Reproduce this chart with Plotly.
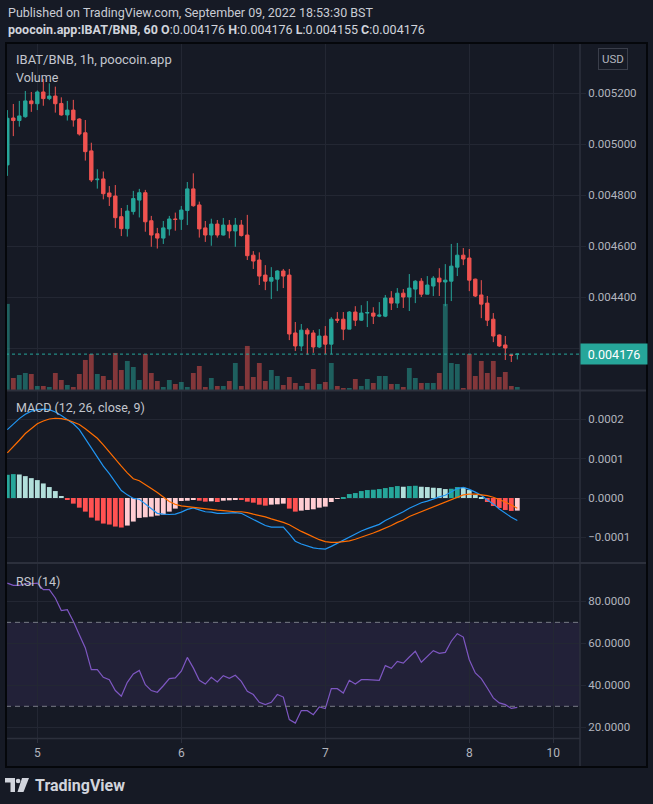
import plotly.graph_objects as go

# ---------------- data (bar index: 0 = Sep 5 00:00, 1h bars) ----------------
bars = list(range(-5, 81))

opens = [0.004918, 0.005102, 0.005092, 0.005107, 0.005169, 0.005158, 0.005204, 0.005178, 0.005188, 0.005159,
         0.005114, 0.005133, 0.005098, 0.005044, 0.004973, 0.004860, 0.004863, 0.004808, 0.004796, 0.004715,
         0.004668, 0.004735, 0.004780, 0.004809, 0.004699, 0.004648, 0.004631, 0.004667, 0.004706, 0.004705,
         0.004739, 0.004824, 0.004761, 0.004671, 0.004643, 0.004686, 0.004643, 0.004682, 0.004659, 0.004682,
         0.004643, 0.004564, 0.004545, 0.004486, 0.004462, 0.004470, 0.004502, 0.004486, 0.004259, 0.004208,
         0.004270, 0.004259, 0.004204, 0.004247, 0.004215, 0.004313, 0.004313, 0.004274, 0.004341, 0.004309,
         0.004337, 0.004337, 0.004325, 0.004325, 0.004396, 0.004376, 0.004415, 0.004400, 0.004431, 0.004462,
         0.004411, 0.004443, 0.004474, 0.004459, 0.004462, 0.004517, 0.004564, 0.004553, 0.004470, 0.004408,
         0.004376, 0.004313, 0.004251, 0.004212, 0.004173, 0.004175]
highs = [0.005133, 0.005157, 0.005169, 0.005208, 0.005204, 0.005210, 0.005255, 0.005238, 0.005225, 0.005183,
         0.005169, 0.005173, 0.005101, 0.005094, 0.005005, 0.004901, 0.004892, 0.004835, 0.004839, 0.004749,
         0.004761, 0.004816, 0.004824, 0.004820, 0.004718, 0.004671, 0.004698, 0.004718, 0.004731, 0.004757,
         0.004851, 0.004885, 0.004774, 0.004698, 0.004707, 0.004702, 0.004710, 0.004702, 0.004710, 0.004702,
         0.004722, 0.004580, 0.004575, 0.004525, 0.004517, 0.004505, 0.004510, 0.004510, 0.004302, 0.004294,
         0.004278, 0.004270, 0.004274, 0.004286, 0.004321, 0.004341, 0.004341, 0.004345, 0.004364, 0.004368,
         0.004384, 0.004360, 0.004380, 0.004408, 0.004423, 0.004435, 0.004431, 0.004490, 0.004466, 0.004474,
         0.004482, 0.004482, 0.004513, 0.004529, 0.004608, 0.004612, 0.004592, 0.004588, 0.004472, 0.004466,
         0.004404, 0.004337, 0.004253, 0.004247, 0.004174, 0.004176]
lows = [0.004875, 0.005031, 0.005068, 0.005103, 0.005126, 0.005133, 0.005150, 0.005172, 0.005123, 0.005111,
        0.005092, 0.005068, 0.005033, 0.004935, 0.004851, 0.004825, 0.004783, 0.004757, 0.004671, 0.004639,
        0.004637, 0.004723, 0.004712, 0.004656, 0.004597, 0.004590, 0.004608, 0.004641, 0.004660, 0.004663,
        0.004682, 0.004754, 0.004633, 0.004616, 0.004601, 0.004633, 0.004641, 0.004630, 0.004597, 0.004637,
        0.004545, 0.004510, 0.004447, 0.004427, 0.004392, 0.004423, 0.004435, 0.004231, 0.004188, 0.004188,
        0.004174, 0.004181, 0.004200, 0.004176, 0.004176, 0.004298, 0.004231, 0.004274, 0.004286, 0.004306,
        0.004282, 0.004294, 0.004321, 0.004321, 0.004349, 0.004357, 0.004357, 0.004345, 0.004376, 0.004400,
        0.004411, 0.004404, 0.004404, 0.004364, 0.004384, 0.004482, 0.004525, 0.004423, 0.004400, 0.004317,
        0.004286, 0.004223, 0.004204, 0.004153, 0.004145, 0.004155]
closes = [0.005101, 0.005092, 0.005110, 0.005169, 0.005158, 0.005204, 0.005178, 0.005188, 0.005158, 0.005114,
          0.005133, 0.005094, 0.005039, 0.004970, 0.004859, 0.004862, 0.004805, 0.004793, 0.004711, 0.004668,
          0.004737, 0.004786, 0.004809, 0.004695, 0.004643, 0.004631, 0.004671, 0.004706, 0.004704, 0.004741,
          0.004824, 0.004758, 0.004667, 0.004643, 0.004686, 0.004643, 0.004682, 0.004659, 0.004682, 0.004641,
          0.004562, 0.004541, 0.004482, 0.004462, 0.004476, 0.004502, 0.004482, 0.004255, 0.004208, 0.004270,
          0.004255, 0.004204, 0.004247, 0.004215, 0.004313, 0.004309, 0.004274, 0.004341, 0.004309, 0.004337,
          0.004339, 0.004325, 0.004329, 0.004396, 0.004376, 0.004415, 0.004400, 0.004435, 0.004462, 0.004411,
          0.004447, 0.004474, 0.004459, 0.004466, 0.004521, 0.004564, 0.004549, 0.004466, 0.004404, 0.004372,
          0.004309, 0.004247, 0.004208, 0.004200, 0.004172, 0.004176]
volume = [258, 36, 45, 51, 48, 12, 12, 9, 51, 30,
          15, 9, 48, 90, 108, 48, 42, 30, 111, 60,
          87, 69, 30, 108, 51, 27, 9, 30, 18, 24,
          9, 51, 72, 9, 36, 12, 12, 27, 81, 12,
          132, 39, 81, 27, 60, 42, 15, 39, 21, 12,
          21, 63, 18, 24, 81, 12, 6, 6, 33, 12,
          33, 21, 42, 42, 18, 18, 9, 66, 36, 21,
          21, 21, 51, 258, 81, 78, 6, 108, 42, 87,
          51, 87, 39, 54, 12, 9]

macd_line = [174e-6, 189e-6, 202e-6, 213e-6, 221e-6, 225e-6, 226e-6, 225e-6, 219e-6, 210e-6,
             199e-6, 189e-6, 174e-6, 151e-6, 130e-6, 105e-6, 81e-6, 62e-6, 41e-6, 19e-6,
             8e-6, -1e-6, -3e-6, -15e-6, -29e-6, -39e-6, -41e-6, -42e-6, -41e-6, -36e-6,
             -29e-6, -25e-6, -30e-6, -35e-6, -36e-6, -39e-6, -39e-6, -38e-6, -37e-6, -39e-6,
             -47e-6, -54e-6, -64e-6, -70e-6, -74e-6, -74e-6, -74e-6, -91e-6, -110e-6, -117e-6,
             -122e-6, -127e-6, -129e-6, -130e-6, -123e-6, -115e-6, -106e-6, -98e-6, -91e-6, -84e-6,
             -78e-6, -73e-6, -67e-6, -57e-6, -50e-6, -41e-6, -35e-6, -26e-6, -18e-6, -12e-6,
             -8e-6, -2e-6, 3e-6, 7e-6, 15e-6, 24e-6, 27e-6, 22e-6, 15e-6, 7e-6,
             -5e-6, -15e-6, -28e-6, -39e-6, -49e-6, -57e-6]
signal_line = [115e-6, 130e-6, 147e-6, 164e-6, 176e-6, 189e-6, 196e-6, 201e-6, 203e-6, 202e-6,
               199e-6, 193e-6, 187e-6, 176e-6, 165e-6, 152e-6, 135e-6, 116e-6, 98e-6, 81e-6,
               64e-6, 49e-6, 44e-6, 35e-6, 24e-6, 14e-6, 2e-6, -9e-6, -16e-6, -20e-6,
               -22e-6, -24e-6, -25e-6, -28e-6, -30e-6, -31e-6, -32e-6, -34e-6, -35e-6, -35e-6,
               -37e-6, -41e-6, -44e-6, -48e-6, -53e-6, -57e-6, -62e-6, -68e-6, -77e-6, -85e-6,
               -92e-6, -100e-6, -106e-6, -111e-6, -113e-6, -113e-6, -111e-6, -109e-6, -105e-6, -100e-6,
               -95e-6, -89e-6, -83e-6, -77e-6, -70e-6, -62e-6, -56e-6, -47e-6, -41e-6, -34e-6,
               -27e-6, -22e-6, -16e-6, -10e-6, -5e-6, 2e-6, 8e-6, 10e-6, 10e-6, 8e-6,
               6e-6, 2e-6, -3e-6, -10e-6, -18e-6, -26e-6]
macd_hist = [59.1e-6, 60.8e-6, 59.9e-6, 55.7e-6, 50.6e-6, 45.6e-6, 37.1e-6, 27.9e-6, 17.7e-6, 5.1e-6,
             -4.2e-6, -14.3e-6, -24.5e-6, -34.6e-6, -49.8e-6, -57.4e-6, -65.0e-6, -67.5e-6, -72.6e-6, -75.1e-6,
             -70.1e-6, -59.9e-6, -50.6e-6, -49.0e-6, -47.3e-6, -44.7e-6, -42.2e-6, -34.6e-6, -27.0e-6, -7.6e-6,
             -6.8e-6, -4.2e-6, -6.8e-6, -9.3e-6, -8.4e-6, -10.1e-6, -6.8e-6, -5.9e-6, -4.2e-6, -5.1e-6,
             -9.3e-6, -11.8e-6, -16.9e-6, -19.4e-6, -16.9e-6, -16.0e-6, -14.3e-6, -27.0e-6, -34.6e-6, -32.1e-6,
             -30.4e-6, -28.7e-6, -24.5e-6, -21.9e-6, -10.1e-6, -2.5e-6, 2.5e-6, 10.1e-6, 12.7e-6, 17.7e-6,
             20.3e-6, 21.1e-6, 22.8e-6, 25.3e-6, 27.9e-6, 30.4e-6, 28.7e-6, 30.4e-6, 31.2e-6, 28.7e-6,
             27.9e-6, 26.2e-6, 25.3e-6, 22.8e-6, 23.6e-6, 27.9e-6, 26.2e-6, 20.3e-6, 7.6e-6, 2.5e-6,
             -10.1e-6, -20.3e-6, -25.3e-6, -30.4e-6, -32.9e-6, -32.1e-6]
rsi = [88.7, 87.6, 87.6, 88.4, 88.4, 88.7, 85.6, 85.6, 81.6, 75.6,
       76.0, 70.5, 64.1, 57.8, 47.5, 47.5, 43.8, 42.7, 37.5, 34.8,
       41.4, 45.4, 47.1, 40.3, 37.5, 36.7, 39.8, 43.2, 43.5, 46.7,
       53.3, 48.3, 42.4, 40.6, 43.8, 41.6, 44.6, 43.3, 44.8, 41.9,
       37.1, 35.6, 31.9, 30.8, 31.9, 35.6, 34.4, 23.7, 22.0, 28.0,
       27.9, 26.0, 29.7, 28.9, 38.4, 38.4, 36.3, 42.4, 40.6, 42.7,
       42.7, 42.4, 42.4, 49.4, 48.1, 51.4, 50.6, 53.5, 56.2, 51.0,
       53.8, 56.5, 55.2, 55.7, 61.0, 64.6, 63.0, 52.2, 45.9, 43.2,
       38.7, 34.0, 31.6, 30.8, 29.0, 29.5]

day_ticks = [0, 24, 48, 72, 86]
day_labels = ["5", "6", "7", "8", "10"]
price_ticks = [0.0042, 0.0044, 0.0046, 0.0048, 0.0050, 0.0052]
price_labels = ["", "0.004400", "0.004600", "0.004800", "0.005000", "0.005200"]  # 0.004200 sits under the price tag
macd_ticks = [-0.0001, 0.0, 0.0001, 0.0002]
macd_labels = ["\u22120.0001", "0.0000", "0.0001", "0.0002"]
rsi_ticks = [20, 40, 60, 80]

# ---------------- style ----------------
W, H = 653, 804
BG = "#161a25"
GRID = "#232733"
SEP = "#2c303c"
TXT = "#b2b5be"
UP, DN = "#26a69a", "#ef5350"
FONT = "Roboto"


def px(x):
    return x / W


def py(y):
    return 1 - y / H


vol_colors = ["rgba(38,166,154,0.5)" if c >= o else "rgba(239,83,80,0.5)" for o, c in zip(opens, closes)]
hist_colors = []
for k, v in enumerate(macd_hist):
    prev = macd_hist[k - 1] if k > 0 else v - 1e-9
    if v >= 0:
        hist_colors.append("#26a69a" if v > prev else "#b2dfdb")
    else:
        hist_colors.append("#ff5252" if v < prev else "#ffcdd2")

fig = go.Figure()
fig.add_trace(go.Bar(x=bars, y=volume, marker=dict(color=vol_colors, line=dict(width=0)),
                     width=0.8, xaxis="x", yaxis="y", hoverinfo="skip"))
fig.add_trace(go.Candlestick(x=bars, open=opens, high=highs, low=lows, close=closes,
                             increasing=dict(line=dict(color=UP, width=1), fillcolor=UP),
                             decreasing=dict(line=dict(color=DN, width=1), fillcolor=DN),
                             whiskerwidth=0, xaxis="x", yaxis="y4", hoverinfo="skip"))
fig.add_trace(go.Bar(x=bars, y=macd_hist, marker=dict(color=hist_colors, line=dict(width=0)),
                     width=0.8, xaxis="x", yaxis="y2", hoverinfo="skip"))
fig.add_trace(go.Scatter(x=bars, y=macd_line, mode="lines", line=dict(color="#2196f3", width=1.2),
                         xaxis="x", yaxis="y2", hoverinfo="skip"))
fig.add_trace(go.Scatter(x=bars, y=signal_line, mode="lines", line=dict(color="#ff6d00", width=1.2),
                         xaxis="x", yaxis="y2", hoverinfo="skip"))
fig.add_trace(go.Scatter(x=bars, y=rsi, mode="lines", line=dict(color="#7e57c2", width=1.2),
                         xaxis="x", yaxis="y3", hoverinfo="skip"))

tickfont = dict(family=FONT, size=11.5, color=TXT)
common_y = dict(side="right", anchor="x", showgrid=True, gridcolor=GRID, gridwidth=1,
                zeroline=False, showline=False, ticks="outside", ticklen=5, tickcolor=GRID,
                tickfont=tickfont, fixedrange=True)

fig.update_layout(
    width=W, height=H, margin=dict(l=0, r=0, t=0, b=0),
    paper_bgcolor=BG, plot_bgcolor=BG, showlegend=False, boxgap=0.2,
    font=dict(family=FONT, color=TXT),
    xaxis=dict(domain=[px(6), px(580)], range=[-5.22, 90.45], anchor="y3",
               tickvals=day_ticks, ticktext=day_labels, showgrid=True, gridcolor=GRID,
               zeroline=False, showline=False, ticks="outside", ticklen=4, tickcolor=SEP,
               tickfont=dict(family=FONT, size=12, color=TXT), rangeslider=dict(visible=False),
               fixedrange=True),
    yaxis=dict(domain=[py(390), py(43)], range=[0, max(volume) * 4.03], visible=False,
               showgrid=False, fixedrange=True),
    yaxis4=dict(overlaying="y", range=[0.0040353, 0.0053961], tickvals=price_ticks,
                ticktext=price_labels, **common_y),
    yaxis2=dict(domain=[py(562), py(391)], range=[-0.0001628, 0.0002723], tickvals=macd_ticks,
                ticktext=macd_labels, **common_y),
    yaxis3=dict(domain=[py(738), py(564)], range=[14.9, 97.8], tickvals=rsi_ticks,
                tickformat=".4f", **common_y),
)

shapes = []
# RSI band and bounds
shapes.append(dict(type="rect", xref="x domain", yref="y3", x0=0, x1=1, y0=30, y1=70,
                   fillcolor="rgba(126,87,194,0.12)", line=dict(width=0), layer="below"))
for lv in (30, 70):
    shapes.append(dict(type="line", xref="x domain", yref="y3", x0=0, x1=1, y0=lv, y1=lv,
                       line=dict(color="#787b86", width=1, dash="5px,4px")))
# current price dotted line
shapes.append(dict(type="line", xref="x domain", yref="y4", x0=0, x1=1, y0=closes[-1], y1=closes[-1],
                   line=dict(color=UP, width=1, dash="dot")))
# pane separators / axis borders
for yy in (390.5, 563):
    shapes.append(dict(type="line", xref="paper", yref="paper", x0=px(6), x1=px(647), y0=py(yy), y1=py(yy),
                       line=dict(color=SEP, width=2)))
shapes.append(dict(type="line", xref="paper", yref="paper", x0=px(6), x1=px(580), y0=py(738.5), y1=py(738.5),
                   line=dict(color=SEP, width=1.5)))
shapes.append(dict(type="line", xref="paper", yref="paper", x0=px(580), x1=px(580), y0=py(43), y1=py(767),
                   line=dict(color=SEP, width=1.5)))
# outer frame
shapes.append(dict(type="rect", xref="paper", yref="paper", x0=px(6), x1=px(647), y0=py(767), y1=py(43),
                   line=dict(color="#05070b", width=2), fillcolor="rgba(0,0,0,0)"))


# TradingView logo (footer)
def path(pts):
    return "M " + " L ".join(f"{px(a):.5f},{py(b):.5f}" for a, b in pts) + " Z"


logo = "#d1d4dc"
shapes.append(dict(type="path", xref="paper", yref="paper", line=dict(width=0), fillcolor=logo,
                   path=path([(5, 778), (15, 778), (15, 792), (10.5, 792), (10.5, 782.5), (5, 782.5)])))
shapes.append(dict(type="circle", xref="paper", yref="paper", line=dict(width=0), fillcolor=logo,
                   x0=px(15.8), x1=px(20.4), y0=py(783.3), y1=py(778.7)))
shapes.append(dict(type="path", xref="paper", yref="paper", line=dict(width=0), fillcolor=logo,
                   path=path([(22, 778), (29, 778), (23.5, 792), (17.5, 792)])))
fig.update_layout(shapes=shapes)

ann = []


def text(x, y, s, size=12, color=TXT, anchor="left", **kw):
    ann.append(dict(x=px(x), y=py(y), xref="paper", yref="paper", text=s, showarrow=False,
                    xanchor=anchor, yanchor="middle", font=dict(family=FONT, size=size, color=color), **kw))


text(6, 13, "Published on TradingView.com, September 09, 2022 18:53:30 BST", size=12.5, color="#c9ccd4")
text(6, 30, "<b>poocoin.app:IBAT/BNB, 60</b> <b>O</b>:0.004176 <b>H</b>:0.004176 <b>L</b>:0.004155 "
            "<b>C</b>:0.004176", size=12.5, color="#d1d4dc")
text(14, 60, "IBAT/BNB, 1h, poocoin.app", size=13, color="#c3c6ce")
text(14, 77, "Volume", size=12.5, color="#c3c6ce")
text(14, 407, "MACD (12, 26, close, 9)", size=12.5, color="#c3c6ce")
text(14, 581, "RSI (14)", size=12.5, color="#c3c6ce")
text(613, 59, "USD", size=11.5, color=TXT, anchor="center", bordercolor="#3a3e4a", borderwidth=1,
     borderpad=3, bgcolor=BG)
text(33, 785, "<b>TradingView</b>", size=16, color="#d1d4dc")
ann.append(dict(x=px(580), y=closes[-1], xref="paper", yref="y4", text=f"{closes[-1]:.6f}",
                showarrow=False, xanchor="left", yanchor="middle", bgcolor=UP, width=64, height=18,
                font=dict(family=FONT, size=12.5, color="#ffffff")))
fig.update_layout(annotations=ann)

fig.write_html("out.html", config={"displayModeBar": False},
               post_script="document.body.style.margin='0px';document.body.style.overflow='hidden';")
